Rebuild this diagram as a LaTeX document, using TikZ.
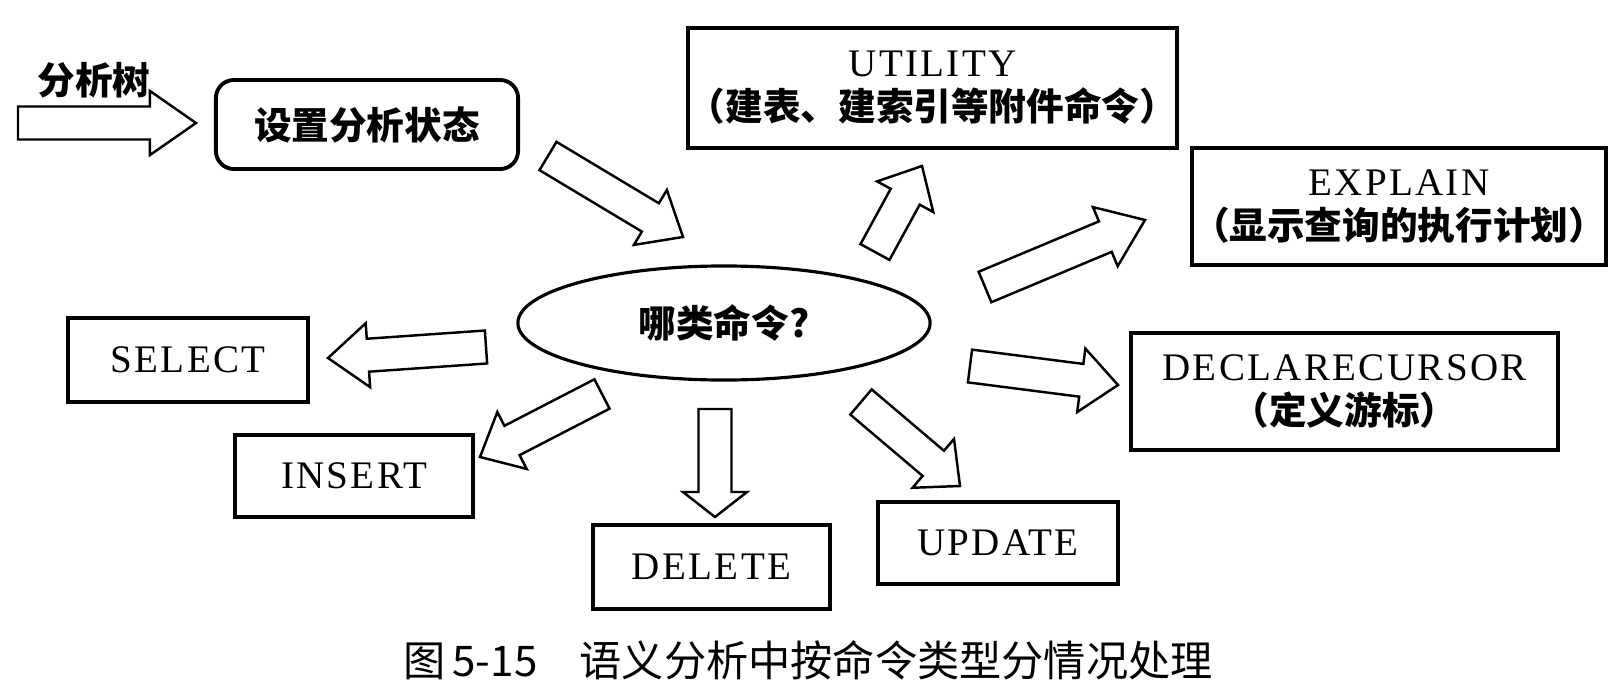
\documentclass[tikz,border=0pt]{standalone}
\usepackage{fontspec}
\setmainfont{Liberation Serif}
\newfontfamily\cjk{Noto Sans CJK SC}
\newfontfamily\capsfont{Liberation Serif}[LetterSpace=6]
\usetikzlibrary{shapes.geometric, calc}

\newcommand{\cntext}[1]{{\cjk\bfseries\fontsize{10.7pt}{12.5pt}\selectfont #1}}
% hollow block arrow from tail coordinate #2 to tip coordinate #3, head length #1
\newcommand{\blockarrow}[3][0.38cm]{%
  \coordinate (ba_base) at ($(#3)!#1!(#2)$);
  \draw[block_arrow] ($(#2)!0.165cm!90:(#3)$) -- ($(ba_base)!0.165cm!-90:(#2)$)
    -- ($(ba_base)!0.32cm!-90:(#2)$) -- (#3) -- ($(ba_base)!0.32cm!90:(#2)$)
    -- ($(ba_base)!0.165cm!90:(#2)$) -- ($(#2)!0.165cm!-90:(#3)$) -- cycle;
}

\begin{document}
\begin{tikzpicture}[
        x=0.01cm, y=-0.01cm,
        cmd_box/.style={draw, rectangle, line width=1.1pt, align=center, inner sep=0pt, font=\capsfont\fontsize{11.1pt}{12.5pt}\selectfont},
        state_box/.style={draw, rectangle, rounded corners=0.18cm, line width=1.1pt, align=center, inner sep=0pt},
        decision_node/.style={draw, ellipse, line width=0.9pt, inner sep=0pt},
        block_arrow/.style={line width=0.7pt, fill=white, line join=miter}
    ]
        \useasboundingbox (0,0) rectangle (1620,697);

        % Nodes
        \node (tree_label) at (94,80) {\cntext{分析树}};
        \node (setup) [state_box, minimum width=3.02cm, minimum height=0.89cm] at (367,124.5) {\cntext{设置分析状态}};
        \node (which_cmd) [decision_node, minimum width=4.12cm, minimum height=1.14cm] at (724,323) {\cntext{哪类命令?}};
        \node (utility) [cmd_box, minimum width=4.87cm, minimum height=1.20cm] at (932.5,88) {UTILITY\\\cntext{（建表、建索引等附件命令）}};
        \node (explain) [cmd_box, minimum width=4.06cm, minimum height=1.17cm] at (1399,206.5) {EXPLAIN\\\cntext{（显示查询的执行计划）}};
        \node (declare) [cmd_box, minimum width=4.27cm, minimum height=1.17cm] at (1344.5,391.5) {DECLARECURSOR\\\cntext{（定义游标）}};
        \node (select) [cmd_box, minimum width=2.40cm, minimum height=0.84cm] at (188,360) {SELECT};
        \node (insert) [cmd_box, minimum width=2.38cm, minimum height=0.82cm] at (354,476) {INSERT};
        \node (delete) [cmd_box, minimum width=2.37cm, minimum height=0.84cm] at (711.5,567) {DELETE};
        \node (update) [cmd_box, minimum width=2.40cm, minimum height=0.82cm] at (998,543) {UPDATE};
        \node (caption) at (808,660) {\cjk\fontsize{12pt}{14pt}\selectfont 图\,5-15\hspace{1em}语义分析中按命令类型分情况处理};

        % Arrow ends
        \coordinate (tree_tail) at (18,123);      \coordinate (tree_tip) at (196,123);
        \coordinate (setup_tail) at (548,156);    \coordinate (setup_tip) at (683,237);
        \coordinate (util_tail) at (875,252);     \coordinate (util_tip) at (922,166);
        \coordinate (explain_tail) at (985,287);  \coordinate (explain_tip) at (1145,220);
        \coordinate (declare_tail) at (970,366);  \coordinate (declare_tip) at (1118,385);
        \coordinate (update_tail) at (861,402);   \coordinate (update_tip) at (960,486);
        \coordinate (delete_tail) at (715,409);   \coordinate (delete_tip) at (715,517);
        \coordinate (insert_tail) at (602,394);   \coordinate (insert_tip) at (480,457);
        \coordinate (select_tail) at (486,347);   \coordinate (select_tip) at (328,358);

        % Arrows
        \blockarrow[0.46cm]{tree_tail}{tree_tip}
        \blockarrow{setup_tail}{setup_tip}
        \blockarrow[0.35cm]{util_tail}{util_tip}
        \blockarrow[0.43cm]{explain_tail}{explain_tip}
        \blockarrow[0.37cm]{declare_tail}{declare_tip}
        \blockarrow[0.35cm]{update_tail}{update_tip}
        \blockarrow[0.25cm]{delete_tail}{delete_tip}
        \blockarrow[0.36cm]{insert_tail}{insert_tip}
        \blockarrow[0.40cm]{select_tail}{select_tip}
    \end{tikzpicture}
\end{document}
